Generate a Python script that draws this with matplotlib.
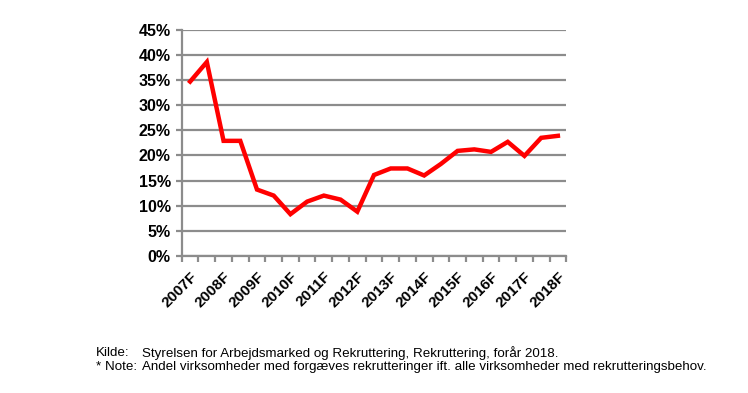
import matplotlib.pyplot as plt
from matplotlib.ticker import PercentFormatter

plt.rcParams['font.family'] = ['Liberation Sans', 'DejaVu Sans']

years = ['2007F', '2008F', '2009F', '2010F', '2011F', '2012F',
         '2013F', '2014F', '2015F', '2016F', '2017F', '2018F']
# two observations per year (spring/autumn), last one is spring 2018
share = [34.7, 38.6, 22.9, 22.9, 13.2, 12.0, 8.3, 10.8, 12.0, 11.2, 8.8, 16.1,
         17.4, 17.4, 16.0, 18.3, 20.9, 21.2, 20.7, 22.7, 19.9, 23.5, 23.9]
source = 'Styrelsen for Arbejdsmarked og Rekruttering, Rekruttering, forår 2018.'
note = 'Andel virksomheder med forgæves rekrutteringer ift. alle virksomheder med rekrutteringsbehov.'

grey = '#8c8c8c'

fig = plt.figure(figsize=(7.48, 3.93), dpi=100)
ax = fig.add_axes([0.243, 0.349, 0.514, 0.575])

x = list(range(len(share)))
ax.plot(x, share, color='#ff0000', lw=3.2, solid_joinstyle='miter', zorder=3)

ax.set_xlim(-0.5, len(share) - 0.5)
ax.set_ylim(0, 45)
ax.set_yticks(range(0, 50, 5))
ax.yaxis.set_major_formatter(PercentFormatter(decimals=0))
ax.grid(axis='y', color=grey, lw=1.6)
ax.set_axisbelow(True)

# category boundaries as ticks, year labels on every other category
ax.set_xticks([i - 0.5 for i in range(len(share) + 1)])
ax.set_xticklabels([])
ax.set_xticks(x[::2], minor=True)
ax.set_xticklabels(years, minor=True, rotation=45, ha='right',
                   rotation_mode='anchor', fontsize=11, fontweight='bold')
ax.tick_params(axis='x', which='minor', length=0, pad=10)
ax.tick_params(axis='x', which='major', length=4, width=1.6, color=grey)
ax.tick_params(axis='y', length=4, width=1.6, color=grey, labelsize=11.5, pad=4)
for lab in ax.get_yticklabels():
    lab.set_fontweight('bold')

for side in ['top', 'right']:
    ax.spines[side].set_visible(False)
for side in ['left', 'bottom']:
    ax.spines[side].set_color(grey)
    ax.spines[side].set_linewidth(1.6)

fs = 9.6
fig.text(96 / 748, 1 - 356.5 / 393, 'Kilde:', fontsize=fs, va='baseline')
fig.text(142 / 748, 1 - 356.5 / 393, source, fontsize=fs, va='baseline')
fig.text(96 / 748, 1 - 370 / 393, '* Note:', fontsize=fs, va='baseline')
fig.text(142 / 748, 1 - 370 / 393, note, fontsize=fs, va='baseline')

fig.savefig('out.png', dpi=100)
